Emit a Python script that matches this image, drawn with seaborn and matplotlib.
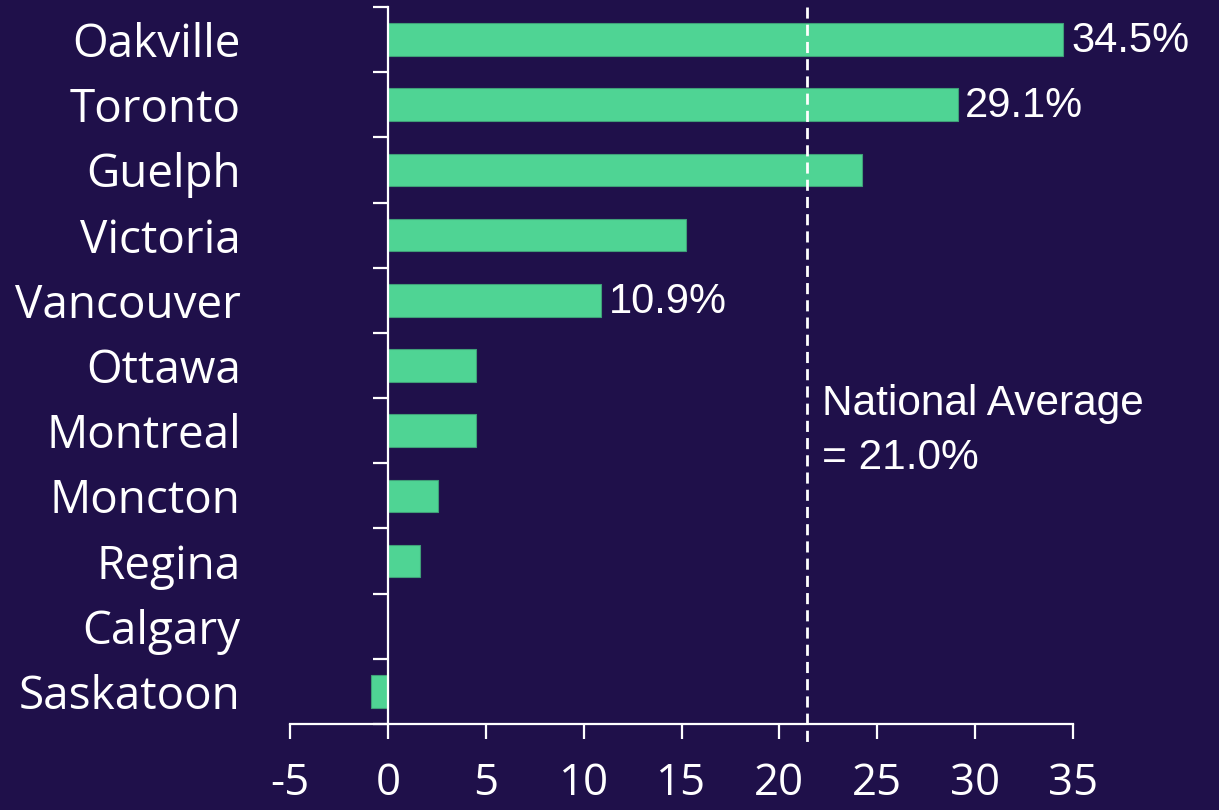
import matplotlib
matplotlib.use("Agg")
import matplotlib.pyplot as plt
import seaborn as sns
import pandas as pd
from matplotlib.ticker import FixedLocator

# values (% change)
cities = ["Oakville", "Toronto", "Guelph", "Victoria", "Vancouver", "Ottawa",
          "Montreal", "Moncton", "Regina", "Calgary", "Saskatoon"]
growth = [34.5, 29.1, 24.2, 15.25, 10.9, 4.5, 4.5, 2.55, 1.65, 0.0, -0.85]
bar_labels = ["34.5%", "29.1%", "", "", "10.9%", "", "", "", "", "", ""]
xticks = [-5, 0, 5, 10, 15, 20, 25, 30, 35]
avg_line_x = 21.4          # where the dashed line sits in the picture
avg_text = ["National Average", "= 21.0%"]

BG = "#1f104a"
GREEN = "#4fd494"
ARIAL = ["Liberation Sans", "DejaVu Sans"]

sns.set_theme(style="ticks")
plt.rcParams["font.family"] = ["Open Sans", "DejaVu Sans"]
plt.rcParams["axes.unicode_minus"] = False

dfrm = pd.DataFrame({"city": cities, "growth": growth})

fig = plt.figure(figsize=(12.19, 8.10), dpi=100, facecolor=BG)
ax = fig.add_axes([290/1219, 1 - 724/810, (1073 - 290)/1219, (724 - 7)/810])
ax.set_facecolor(BG)

sns.barplot(data=dfrm, x="growth", y="city", orient="h", color=GREEN,
            saturation=1, width=0.5, edgecolor="#3f9f78", linewidth=0.8, ax=ax)

ax.set_xlim(xticks[0], xticks[-1])
ax.set_ylim(len(cities) - 0.5, -0.5)
ax.set_xticks(xticks)
ax.set_xlabel("")
ax.set_ylabel("")

# axis styling: left spine sits on zero, ticks between categories
for side in ("top", "right"):
    ax.spines[side].set_visible(False)
ax.spines["left"].set_position(("data", 0))
for side in ("left", "bottom"):
    ax.spines[side].set_color("white")
    ax.spines[side].set_linewidth(1.6)

ax.yaxis.set_minor_locator(FixedLocator([i - 0.5 for i in range(len(cities) + 1)]))
ax.tick_params(axis="y", which="major", length=0, pad=106, labelsize=33,
               labelcolor="white")
ax.tick_params(axis="y", which="minor", length=11, width=1.6, color="white",
               direction="out")
ax.tick_params(axis="x", which="major", length=11, width=1.6, color="white",
               direction="out", pad=16, labelsize=31.5, labelcolor="white")

# value labels on three bars
for i, (val, lbl) in enumerate(zip(growth, bar_labels)):
    if lbl:
        ax.text(val + 0.4, i + 0.02, lbl, ha="left", va="center", color="white",
                fontsize=30, family=ARIAL)

# national average marker
ax.plot([avg_line_x, avg_line_x], [-0.5, len(cities) - 0.5 + 0.34], color="white",
        lw=2, ls=(0, (4, 2.2)), clip_on=False, zorder=5)
ax.text(avg_line_x + 0.8, 5.76, avg_text[0], ha="left", va="baseline",
        color="white", fontsize=30.5, family=ARIAL)
ax.text(avg_line_x + 0.8, 6.59, avg_text[1], ha="left", va="baseline",
        color="white", fontsize=30.5, family=ARIAL)

fig.savefig("out.png", dpi=100, facecolor=BG)
